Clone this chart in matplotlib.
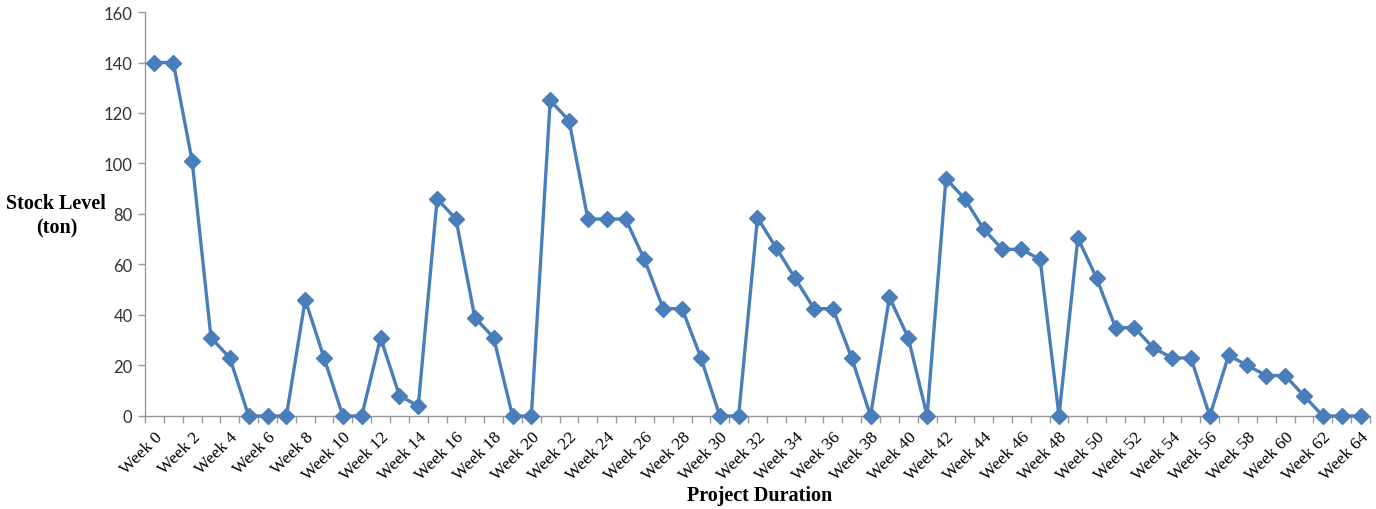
import matplotlib.pyplot as plt
import numpy as np

weeks = list(range(65))
week_labels = ['Week %d' % w for w in weeks]
stock = [140, 140, 101, 31, 23, 0, 0, 0, 46, 23,
         0, 0, 31, 8, 4, 86, 78, 39, 31, 0,
         0, 125, 117, 78, 78, 78, 62, 42.5, 42.5, 23,
         0, 0, 78.5, 66.5, 54.5, 42.5, 42.5, 23, 0, 47,
         31, 0, 94, 86, 74, 66, 66, 62, 0, 70.5,
         54.5, 35, 35, 27, 23, 23, 0, 24, 20, 16,
         16, 8, 0, 0, 0]
y_ticks = [0, 20, 40, 60, 80, 100, 120, 140, 160]

fig = plt.figure(figsize=(13.76, 5.10), dpi=100)
ax = fig.add_axes([0.1054, 0.1824, 0.8902, 0.7921])

ax.plot(weeks, stock, color='#4A7EBB', linewidth=2.4, marker='D',
        markersize=8, markerfacecolor='#4A7EBB', markeredgecolor='#4A7EBB',
        clip_on=False, zorder=3)

ax.set_xlim(-0.5, len(weeks) - 0.5)
ax.set_ylim(0, 160)
ax.set_yticks(y_ticks)
ax.set_yticklabels([str(v) for v in y_ticks], fontfamily='Lato', fontsize=12, color='#333333')

ax.set_xticks(weeks[::2])
ax.set_xticklabels(week_labels[::2], rotation=45, ha='right', rotation_mode='anchor',
                   fontfamily='Liberation Serif', fontsize=12.5)
ax.set_xticks(np.arange(-0.5, len(weeks), 1.0), minor=True)
ax.tick_params(axis='x', which='major', length=0, pad=9)
ax.tick_params(axis='x', which='minor', length=5, color='#999999', width=1)
ax.tick_params(axis='y', length=5, color='#999999', width=1, pad=4)

for side in ['top', 'right']:
    ax.spines[side].set_visible(False)
for side in ['left', 'bottom']:
    ax.spines[side].set_color('#999999')
    ax.spines[side].set_linewidth(1)

fig.text(0.041, 0.576, 'Stock Level\n(ton)', ha='center', va='center',
         fontfamily='Liberation Serif', fontweight='bold', fontsize=14.5, linespacing=1.3)
fig.text(0.552, 0.027, 'Project Duration', ha='center', va='center',
         fontfamily='Liberation Serif', fontweight='bold', fontsize=14.5)

fig.savefig('out.png', dpi=100)
